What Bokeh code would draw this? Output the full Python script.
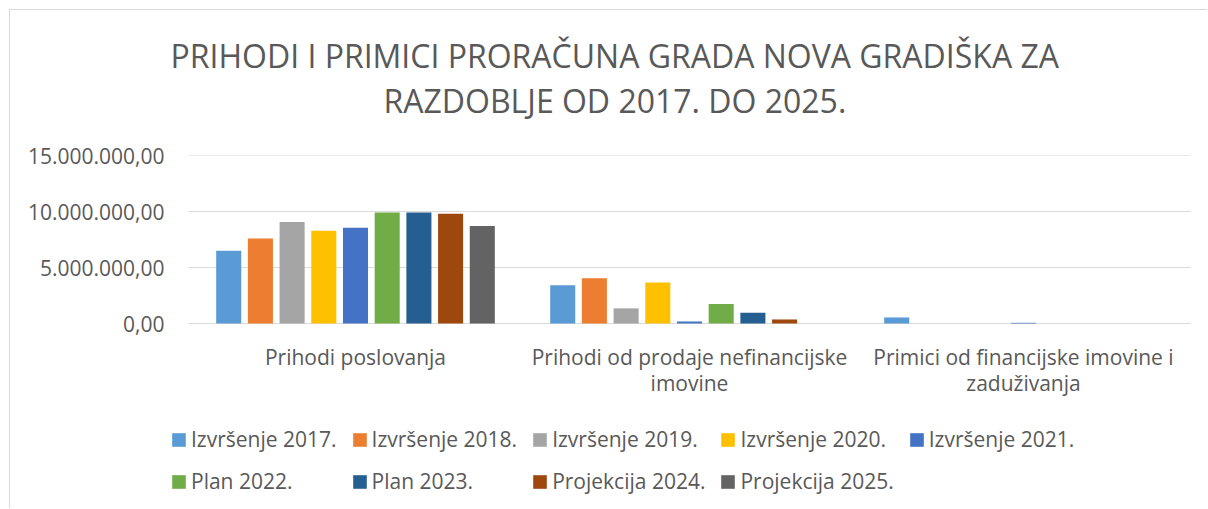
from bokeh.plotting import figure
from bokeh.models import (FactorRange, Range1d, Legend, LegendItem, Title,
                          FixedTicker, CustomJSTickFormatter, ColumnDataSource)
from bokeh.transform import dodge
from bokeh.embed import file_html
from bokeh.resources import INLINE

categories = ["Prihodi poslovanja",
              "Prihodi od prodaje nefinancijske\nimovine",
              "Primici od financijske imovine i\nzaduživanja"]

series_names = ["Izvršenje 2017.", "Izvršenje 2018.", "Izvršenje 2019.",
                "Izvršenje 2020.", "Izvršenje 2021.", "Plan 2022.",
                "Plan 2023.", "Projekcija 2024.", "Projekcija 2025."]

izvrsenje_2017 = [6500000, 3420000, 540000]
izvrsenje_2018 = [7600000, 4030000, 0]
izvrsenje_2019 = [9070000, 1350000, 0]
izvrsenje_2020 = [8290000, 3670000, 0]
izvrsenje_2021 = [8560000, 180000, 60000]
plan_2022 = [9900000, 1740000, 0]
plan_2023 = [9900000, 960000, 0]
projekcija_2024 = [9810000, 360000, 0]
projekcija_2025 = [8710000, 0, 0]

series_values = [izvrsenje_2017, izvrsenje_2018, izvrsenje_2019, izvrsenje_2020,
                 izvrsenje_2021, plan_2022, plan_2023, projekcija_2024,
                 projekcija_2025]

colors = ["#5B9BD5", "#ED7D31", "#A5A5A5", "#FFC000", "#4472C4",
          "#70AD47", "#255E91", "#9E480E", "#636363"]

y_ticks = [0, 5000000, 10000000, 15000000]

title_line1 = "PRIHODI I PRIMICI PRORAČUNA GRADA NOVA GRADIŠKA ZA"
title_line2 = "RAZDOBLJE OD 2017. DO 2025."

TEXT = "#595959"
GRID = "#d9d9d9"
FONT = "Open Sans"

# layout (pixels): value axis 0..15M spans 168 px; frame runs to the bottom;
# each category spans 334 px, frame extends 18 px beyond the categories each side
W, H = 1198, 499
TOP, LEFT, RIGHT = 145, 160, 0
VALUE_PX = 168
CAT_PX = 334
frame_h = H - TOP
frame_w = W - LEFT - RIGHT
y_max = y_ticks[-1]
y_min = -y_max * (frame_h - VALUE_PX) / VALUE_PX
n_cat = len(categories)
x_pad = (frame_w / CAT_PX - n_cat) / n_cat

p = figure(x_range=FactorRange(*categories, range_padding=x_pad,
                               range_padding_units="percent"),
           y_range=Range1d(y_min, y_max),
           width=W, height=H, output_backend="svg",
           toolbar_location=None, title=None,
           min_border_left=LEFT, min_border_right=RIGHT,
           min_border_top=TOP, min_border_bottom=0)
p.styles = {"margin-left": "9px", "margin-top": "9px",
            "border-left": "1px solid #d9d9d9", "border-top": "1px solid #d9d9d9"}
p.outline_line_color = None
p.background_fill_color = "white"
p.border_fill_color = "white"

# horizontal gridlines spanning exactly the category area
grid_src = ColumnDataSource(dict(
    y=y_ticks,
    x0=[[categories[0], -0.5]] * len(y_ticks),
    x1=[[categories[-1], 0.5]] * len(y_ticks)))
p.segment(x0="x0", y0="y", x1="x1", y1="y", source=grid_src,
          line_color=GRID, line_width=1, level="underlay")

data = {"cat": categories}
for i, vals in enumerate(series_values):
    data["s%d" % i] = vals
src = ColumnDataSource(data)

pitch = 0.0949
bar_w = 0.075
renderers = []
for i, name in enumerate(series_names):
    r = p.vbar(x=dodge("cat", (i - 4) * pitch, range=p.x_range), top="s%d" % i,
               width=bar_w, source=src, fill_color=colors[i], line_color=None)
    renderers.append(r)

# titles: stacked outward from the frame (spacer, line 2, line 1)
spacer = Title(text=" ", text_font_size="1px", standoff=31)
t2 = Title(text=title_line2, align="left", vertical_align="bottom",
           text_font=FONT, text_font_size="32px", text_font_style="normal",
           text_color=TEXT, standoff=0, offset=195 + 18)
t1 = Title(text=title_line1, align="left", vertical_align="bottom",
           text_font=FONT, text_font_size="32px", text_font_style="normal",
           text_color=TEXT, standoff=0, offset=-18 + 18)
p.add_layout(spacer, "above")
p.add_layout(t2, "above")
p.add_layout(t1, "above")

# axes
p.yaxis.ticker = FixedTicker(ticks=y_ticks)
p.yaxis.formatter = CustomJSTickFormatter(code="""
    return tick.toFixed(2).replace('.', ',').replace(/\\B(?=(\\d{3})+(?!\\d))/g, '.');
""")
p.yaxis.axis_line_color = None
p.yaxis.major_tick_line_color = None
p.yaxis.minor_tick_line_color = None
p.yaxis.major_tick_out = 0
p.yaxis.major_label_standoff = 6
p.yaxis.major_label_text_font = FONT
p.yaxis.major_label_text_font_size = "21px"
p.yaxis.major_label_text_color = TEXT

p.xaxis.fixed_location = 0
p.xaxis.axis_line_color = None
p.xaxis.major_tick_line_color = None
p.xaxis.minor_tick_line_color = None
p.xaxis.major_tick_out = 0
p.xaxis.major_tick_in = 0
p.xaxis.major_label_standoff = 19
p.xaxis.major_label_text_font = FONT
p.xaxis.major_label_text_font_size = "21px"
p.xaxis.major_label_text_color = TEXT
p.xaxis.major_label_text_line_height = 0.96

p.xgrid.grid_line_color = None
p.ygrid.grid_line_color = None

legend = Legend(items=[LegendItem(label=n, renderers=[r]) for n, r in zip(series_names, renderers)],
                location=(0, 14), orientation="horizontal", ncols=5,
                glyph_width=17, glyph_height=17, label_standoff=4,
                spacing=14, padding=0, margin=0,
                label_text_font=FONT, label_text_font_size="21px",
                label_text_color=TEXT, background_fill_alpha=0,
                border_line_alpha=0)
p.add_layout(legend, "center")

open("out.html", "w").write(file_html(p, INLINE))
